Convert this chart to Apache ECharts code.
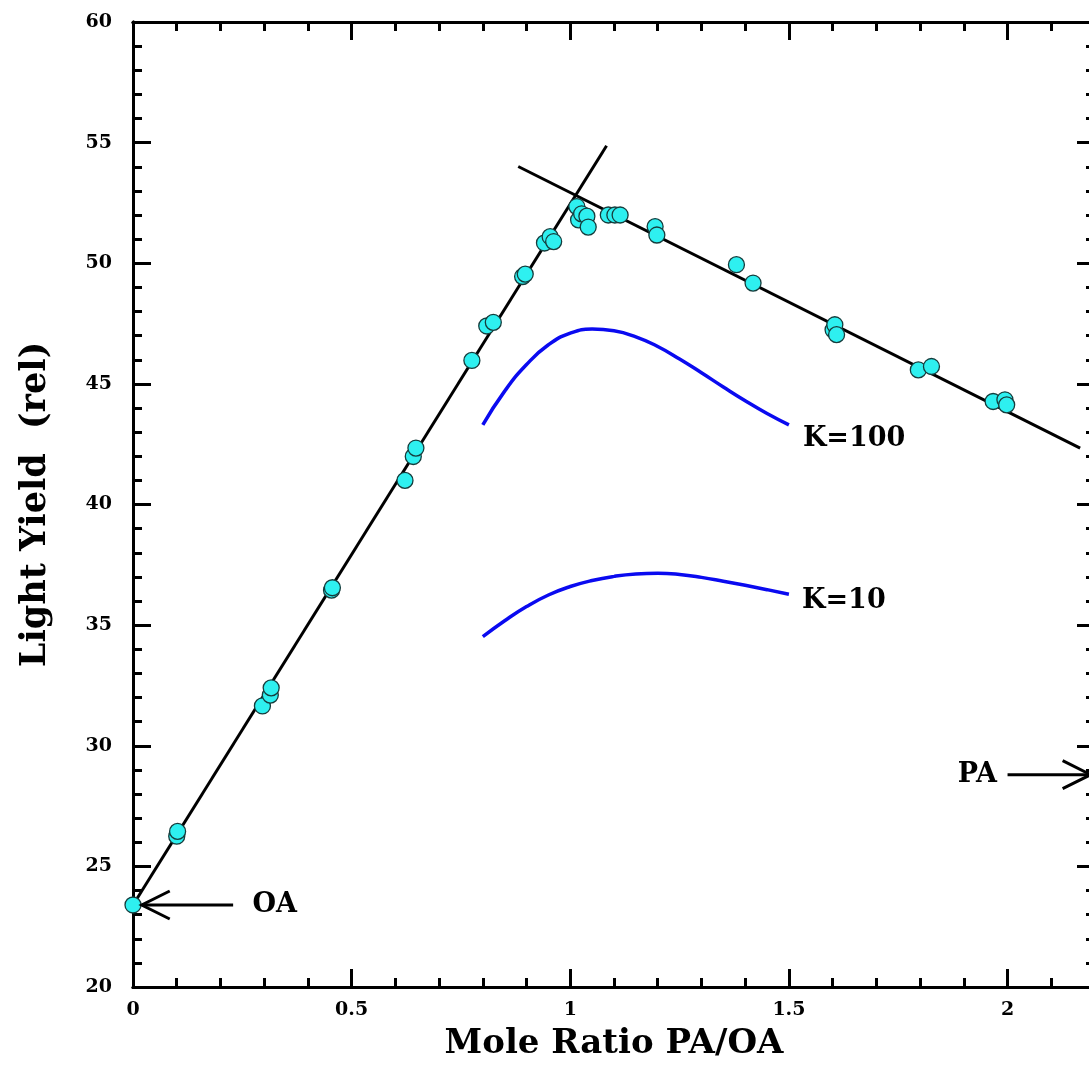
<!DOCTYPE html>
<html><head><meta charset="utf-8">
<script src="https://cdn.jsdelivr.net/npm/echarts@6/dist/echarts.min.js"></script>
<style>html,body{margin:0;padding:0;background:#fff}#c{width:1089px;height:1066px}</style>
</head><body><div id="c"></div>
<script>
// ---- data ----
const xTickLabels = ['0', '0.5', '1', '1.5', '2'];
const yTickLabels = ['20', '25', '30', '35', '40', '45', '50', '55', '60'];

const measuredRatio = [0, 0.1, 0.102, 0.296, 0.314, 0.316, 0.454, 0.456, 0.622, 0.641, 0.647, 0.775, 0.809, 0.824,
  0.891, 0.897, 0.941, 0.954, 0.962, 1.015, 1.019, 1.026, 1.038, 1.041, 1.087, 1.102, 1.114, 1.194, 1.198,
  1.38, 1.418, 1.601, 1.605, 1.609, 1.796, 1.826, 1.967, 1.994, 1.998];
const measuredYield = [23.4, 26.25, 26.45, 31.65, 32.1, 32.4, 36.45, 36.55, 41.0, 41.99, 42.34, 45.97, 47.4, 47.55,
  49.45, 49.55, 50.84, 51.1, 50.9, 52.35, 51.8, 52.05, 51.95, 51.5, 52.0, 52.0, 52.0, 51.52, 51.17,
  49.94, 49.18, 47.24, 47.45, 47.04, 45.58, 45.72, 44.27, 44.34, 44.13];

const oaFitLine = [[0, 23.4], [1.083, 54.87]];
const paFitLine = [[0.881, 54.01], [2.166, 42.34]];

const modelRatio = [0.8, 0.85, 0.9, 0.95, 1.0, 1.05, 1.1, 1.15, 1.2, 1.25, 1.3, 1.35, 1.4, 1.45, 1.5];
const k100Yield = [43.3, 44.7, 45.8, 46.62, 47.1, 47.27, 47.2, 46.95, 46.55, 46.03, 45.46, 44.87, 44.3, 43.77, 43.3];
const k10Yield = [34.52, 35.18, 35.77, 36.25, 36.6, 36.85, 37.02, 37.12, 37.15, 37.1, 36.98, 36.82, 36.65, 36.47, 36.28];

// arrows: [tip ratio, yield, tail ratio]
const arrowNotes = [[0.02, 23.4, 0.229], [2.19, 28.8, 2.0]];
// text notes: [ratio, yield, text]
const notesLeft = [[0.273, 23.4, 'OA'], [1.532, 42.7, 'K=100'], [1.53, 36.0, 'K=10']];
const notesRight = [[1.976, 28.8, 'PA']];

// ---- chart ----
const FONT = 'DejaVu Serif';
const chart = echarts.init(document.getElementById('c'), null, {renderer: 'canvas'});
const pair = (xs, ys) => xs.map((x, i) => [x, ys[i]]);
const fmt = (labels) => (v) => labels.find(l => Math.abs(parseFloat(l) - v) < 1e-6) || '';

function makeAxis(kind, pos, interval, len, labels, extra) {
  const isX = kind === 'x';
  return Object.assign({
    type: 'value', position: pos,
    min: isX ? 0 : 20, max: isX ? 2.2 : 60, interval: interval,
    axisLine: {show: true, onZero: false, lineStyle: {color: '#000', width: 3}},
    axisTick: {show: true, inside: true, length: len, lineStyle: {color: '#000', width: 3}},
    axisLabel: labels ? {
      show: true, formatter: fmt(labels), color: '#000', fontFamily: FONT, fontWeight: 'bold', fontSize: 19,
      margin: isX ? 14 : 21, showMaxLabel: !isX, showMinLabel: true
    } : {show: false},
    splitLine: {show: false}
  }, extra || {});
}

const textSeries = (notes, align, size) => ({
  type: 'custom', xAxisIndex: 0, yAxisIndex: 0, z: 10, clip: false,
  data: notes.map(n => [n[0], n[1]]),
  renderItem: (params, api) => {
    const p = api.coord([api.value(0), api.value(1)]);
    return {type: 'text', x: p[0], y: p[1], style: {
      text: notes[params.dataIndex][2], fill: '#000', align: align, verticalAlign: 'middle',
      font: 'bold ' + size + 'px "' + FONT + '"'}};
  }
});

const option = {
  animation: false,
  backgroundColor: '#fff',
  grid: {left: 133, width: 962, top: 22, bottom: 79, containLabel: false, outerBoundsMode: 'none'},
  xAxis: [
    makeAxis('x', 'bottom', 0.1, 9, null),
    makeAxis('x', 'bottom', 0.5, 18, xTickLabels, {
      name: 'Mole Ratio PA/OA', nameLocation: 'middle', nameGap: 40,
      nameTextStyle: {color: '#000', fontFamily: FONT, fontWeight: 'bold', fontSize: 34}}),
    makeAxis('x', 'top', 0.1, 9, null),
    makeAxis('x', 'top', 0.5, 18, null)
  ],
  yAxis: [
    makeAxis('y', 'left', 1, 9, null),
    makeAxis('y', 'left', 5, 18, yTickLabels, {
      name: 'Light Yield  (rel)', nameLocation: 'middle', nameGap: 80, nameRotate: 90,
      nameTextStyle: {color: '#000', fontFamily: FONT, fontWeight: 'bold', fontSize: 35}}),
    makeAxis('y', 'right', 1, 9, null),
    makeAxis('y', 'right', 5, 18, null)
  ],
  series: [
    {type: 'line', data: oaFitLine, showSymbol: false, xAxisIndex: 0, yAxisIndex: 0, z: 3,
      lineStyle: {color: '#000', width: 3}},
    {type: 'line', data: paFitLine, showSymbol: false, xAxisIndex: 0, yAxisIndex: 0, z: 3,
      lineStyle: {color: '#000', width: 3}},
    {type: 'line', data: pair(modelRatio, k100Yield), smooth: 0.5, showSymbol: false, z: 3,
      lineStyle: {color: '#0a0af0', width: 3.5}},
    {type: 'line', data: pair(modelRatio, k10Yield), smooth: 0.5, showSymbol: false, z: 3,
      lineStyle: {color: '#0a0af0', width: 3.5}},
    {type: 'scatter', data: pair(measuredRatio, measuredYield), symbolSize: 16, z: 5,
      itemStyle: {color: '#2ef0f0', borderColor: '#163c3c', borderWidth: 1.3, opacity: 1}},
    {type: 'custom', xAxisIndex: 0, yAxisIndex: 0, z: 10, clip: false,
      data: arrowNotes,
      renderItem: (params, api) => {
        const tip = api.coord([api.value(0), api.value(1)]);
        const tail = api.coord([api.value(2), api.value(1)]);
        const d = tail[0] > tip[0] ? 1 : -1;
        return {type: 'group', children: [
          {type: 'line', shape: {x1: tail[0], y1: tail[1], x2: tip[0], y2: tip[1]},
            style: {stroke: '#000', lineWidth: 3}},
          {type: 'polyline', shape: {points: [[tip[0] + d * 28, tip[1] - 14], [tip[0], tip[1]], [tip[0] + d * 28, tip[1] + 14]]},
            style: {stroke: '#000', lineWidth: 3, fill: null}}
        ]};
      }},
    textSeries(notesLeft, 'left', 27),
    textSeries(notesRight, 'right', 27)
  ]
};
chart.setOption(option);
</script>
</body></html>
